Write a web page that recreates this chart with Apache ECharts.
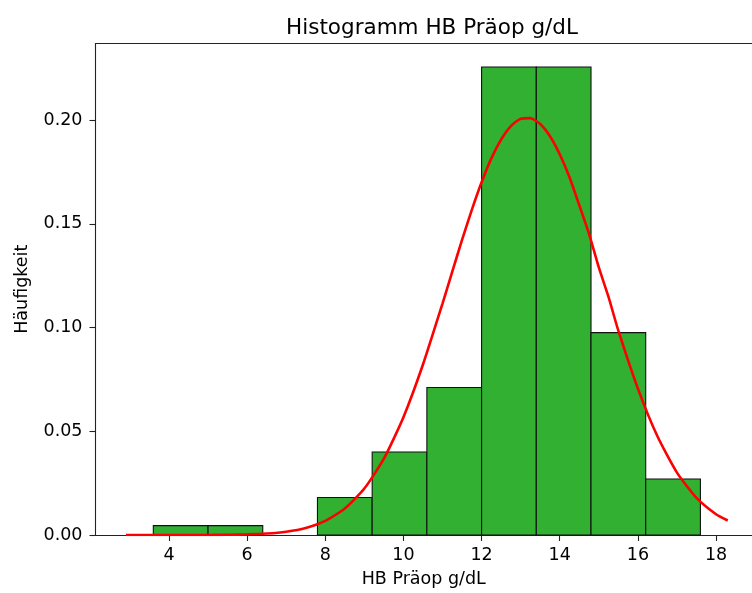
<!DOCTYPE html>
<html>
<head>
<meta charset="utf-8">
<script src="https://cdn.jsdelivr.net/npm/echarts@6/dist/echarts.min.js"></script>
<style>html,body{margin:0;padding:0;background:#fff}#c{width:752px;height:593px}</style>
</head>
<body>
<div id="c"></div>
<script>
// Histogram bins (edges) and density heights
var binStarts = [3.6, 5.0, 6.4, 7.8, 9.2, 10.6, 12.0, 13.4, 14.8, 16.2];
var binEnds   = [5.0, 6.4, 7.8, 9.2, 10.6, 12.0, 13.4, 14.8, 16.2, 17.6];
var densities = [0.0045, 0.0045, 0, 0.0181, 0.0400, 0.0711, 0.2257, 0.2257, 0.0976, 0.0270];

// Fitted curve points
var curveX = [2.9, 3.5, 4, 4.5, 5, 5.5, 6, 6.5, 7, 7.5, 8, 8.5, 9, 9.5, 10, 10.5, 11, 11.25, 11.5, 11.75, 12, 12.25, 12.5, 12.75, 13, 13.25, 13.5, 13.75, 14, 14.25, 14.5, 14.75, 15, 15.25, 15.5, 16, 16.5, 17, 17.5, 18, 18.3];
var curveY = [0.0000, 0.0000, 0.0000, 0.0000, 0.0000, 0.0001, 0.0003, 0.0007, 0.0016, 0.0034, 0.0068, 0.0128, 0.0224, 0.0368, 0.0568, 0.0822, 0.1116, 0.1270, 0.1423, 0.1568, 0.1701, 0.1816, 0.1907, 0.1972, 0.2007, 0.2010, 0.1982, 0.1923, 0.1836, 0.1725, 0.1590, 0.1452, 0.1290, 0.1147, 0.0985, 0.0706, 0.0476, 0.0301, 0.0179, 0.0100, 0.0070];

var xTicks = [4, 6, 8, 10, 12, 14, 16, 18];
var yTicks = [0, 0.05, 0.10, 0.15, 0.20];

var barData = binStarts.map(function (s, i) { return [s, binEnds[i], densities[i]]; });
var lineData = curveX.map(function (x, i) { return [x, curveY[i]]; });

var FONT = 'DejaVu Sans';
var chart = echarts.init(document.getElementById('c'), null, {renderer: 'canvas'});
chart.setOption({
  animation: false,
  backgroundColor: '#ffffff',
  title: {
    text: 'Histogramm HB Präop g/dL',
    left: 427, top: 12, textAlign: 'center',
    textStyle: {fontFamily: FONT, fontSize: 21.5, fontWeight: 'normal', color: '#000'}
  },
  grid: {left: 95.5, right: 0, top: 43.5, bottom: 56.3},
  xAxis: [{
    type: 'value', min: 2.12, max: 18.92,
    name: 'HB Präop g/dL', nameLocation: 'middle', nameGap: 35,
    nameTextStyle: {fontFamily: FONT, fontSize: 17.5, color: '#000'},
    axisLine: {show: true, onZero: false, lineStyle: {color: '#222', width: 1.1}},
    axisTick: {show: true, length: 6, customValues: xTicks, lineStyle: {color: '#222', width: 1.1}},
    axisLabel: {customValues: xTicks, fontFamily: FONT, fontSize: 17.5, color: '#000', margin: 11},
    splitLine: {show: false}
  }, {
    type: 'value', min: 2.12, max: 18.92, position: 'top',
    axisLine: {show: true, onZero: false, lineStyle: {color: '#222', width: 1.1}},
    axisTick: {show: false}, axisLabel: {show: false}, splitLine: {show: false}
  }],
  yAxis: {
    type: 'value', min: 0, max: 0.237,
    name: 'Häufigkeit', nameLocation: 'middle', nameGap: 64.5, nameRotate: 90,
    nameTextStyle: {fontFamily: FONT, fontSize: 17.5, color: '#000'},
    axisLine: {show: true, lineStyle: {color: '#222', width: 1.1}},
    axisTick: {show: true, length: 6, customValues: yTicks, lineStyle: {color: '#222', width: 1.1}},
    axisLabel: {customValues: yTicks, fontFamily: FONT, fontSize: 17.5, color: '#000', margin: 13,
      formatter: function (v) { return v.toFixed(2); }},
    splitLine: {show: false}
  },
  series: [{
    type: 'custom',
    xAxisIndex: 0,
    renderItem: function (params, api) {
      var p0 = api.coord([api.value(0), api.value(2)]);
      var p1 = api.coord([api.value(1), 0]);
      if (api.value(2) <= 0) return null;
      return {
        type: 'rect',
        shape: {x: p0[0], y: p0[1], width: p1[0] - p0[0], height: p1[1] - p0[1]},
        style: {fill: '#32b032', stroke: '#111', lineWidth: 1.1}
      };
    },
    encode: {x: [0, 1], y: 2},
    data: barData,
    z: 2
  }, {
    type: 'line',
    xAxisIndex: 0,
    data: lineData,
    smooth: 0.2,
    symbol: 'none',
    lineStyle: {color: '#ff0000', width: 2.6},
    z: 3
  }]
});
</script>
</body>
</html>
